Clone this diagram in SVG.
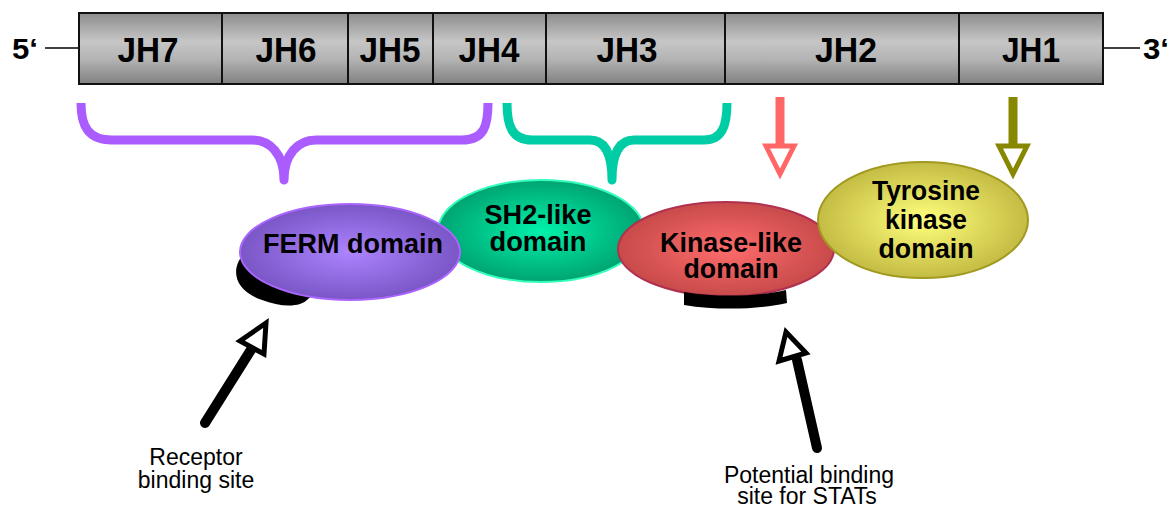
<svg xmlns="http://www.w3.org/2000/svg" width="1170" height="508" viewBox="0 0 1170 508">
<defs>
<linearGradient id="bar" x1="0" y1="0" x2="0" y2="1">
<stop offset="0" stop-color="#8c8c8c"/>
<stop offset="0.4" stop-color="#c6c6c6"/>
<stop offset="0.65" stop-color="#b4b4b4"/>
<stop offset="1" stop-color="#808080"/>
</linearGradient>
<radialGradient id="gFerm"><stop offset="0" stop-color="#ac84ff"/><stop offset="1" stop-color="#7a56c6"/></radialGradient>
<radialGradient id="gSh2"><stop offset="0" stop-color="#00f2aa"/><stop offset="1" stop-color="#00a472"/></radialGradient>
<radialGradient id="gKin"><stop offset="0" stop-color="#ff6c6c"/><stop offset="1" stop-color="#c84a4a"/></radialGradient>
<radialGradient id="gTyr"><stop offset="0" stop-color="#ffff7c"/><stop offset="1" stop-color="#c4bc44"/></radialGradient>
</defs>
<style>
.seg{fill:url(#bar);stroke:#111;stroke-width:2}
.jh{font-family:"Liberation Sans",Arial,sans-serif;font-weight:bold;font-size:35px;text-anchor:middle;fill:#000}
.end{font-family:"Liberation Sans",Arial,sans-serif;font-weight:bold;font-size:30px;fill:#000}
.lab{font-family:"Liberation Sans",Arial,sans-serif;font-weight:bold;font-size:28px;text-anchor:middle;fill:#000}
.note{font-family:"Liberation Sans",Arial,sans-serif;font-size:23px;text-anchor:middle;fill:#000}
.brace{fill:none;stroke-width:9;stroke-linecap:butt;stroke-linejoin:round}
.open{fill:#fff;stroke-width:5;stroke-linejoin:miter}
</style>

<g id="gene">
<line x1="45" y1="48" x2="79" y2="48" stroke="#000" stroke-width="1.5"/>
<line x1="1103" y1="48" x2="1140" y2="48" stroke="#000" stroke-width="1.5"/>
<text class="end" x="12" y="59" textLength="26" lengthAdjust="spacingAndGlyphs">5‘</text>
<text class="end" x="1143" y="59" textLength="26" lengthAdjust="spacingAndGlyphs">3‘</text>
<rect class="seg" x="79" y="13" width="143" height="71"/>
<rect class="seg" x="222" y="13" width="126" height="71"/>
<rect class="seg" x="348" y="13" width="85" height="71"/>
<rect class="seg" x="433" y="13" width="113" height="71"/>
<rect class="seg" x="546" y="13" width="179" height="71"/>
<rect class="seg" x="725" y="13" width="234" height="71"/>
<rect class="seg" x="959" y="13" width="144" height="71"/>
<text class="jh" x="148" y="62" textLength="61" lengthAdjust="spacingAndGlyphs">JH7</text>
<text class="jh" x="286" y="62" textLength="61" lengthAdjust="spacingAndGlyphs">JH6</text>
<text class="jh" x="390" y="62" textLength="61" lengthAdjust="spacingAndGlyphs">JH5</text>
<text class="jh" x="489" y="62" textLength="61" lengthAdjust="spacingAndGlyphs">JH4</text>
<text class="jh" x="627" y="62" textLength="61" lengthAdjust="spacingAndGlyphs">JH3</text>
<text class="jh" x="846" y="62" textLength="62" lengthAdjust="spacingAndGlyphs">JH2</text>
<text class="jh" x="1031" y="62" textLength="58" lengthAdjust="spacingAndGlyphs">JH1</text>
</g>

<g id="connectors">
<path class="brace" stroke="#aa5cff" d="M 81 103 C 81 126 88 140 112 140 L 252 140 C 270 140 284 154 284 180 C 284 154 298 140 316 140 L 462 140 C 484 140 488 126 488 103"/>
<path class="brace" stroke="#00cca6" d="M 507 103 C 507 126 512 140 532 140 L 590 140 C 604 140 612 152 612 180 C 612 152 620 140 634 140 L 704 140 C 722 140 727 126 727 103"/>
<line x1="780" y1="97" x2="780" y2="146" stroke="#ff6666" stroke-width="9"/>
<path class="open" stroke="#ff6666" d="M 766 146 L 794 146 L 780 174 Z"/>
<line x1="1013" y1="97" x2="1013" y2="146" stroke="#888800" stroke-width="9"/>
<path class="open" stroke="#888800" d="M 999 146 L 1027 146 L 1013 174 Z"/>
<line x1="205" y1="423" x2="254" y2="345" stroke="#000" stroke-width="10" stroke-linecap="round"/>
<path class="open" stroke="#000" d="M 266 323 L 240 341 L 264 354 Z"/>
<line x1="817" y1="448" x2="797" y2="360" stroke="#000" stroke-width="10" stroke-linecap="round"/>
<path class="open" stroke="#000" d="M 786 332 L 779 361 L 806 353 Z"/>
</g>

<g id="sh2">
<ellipse cx="541" cy="231" rx="103" ry="51" fill="url(#gSh2)" stroke="#33ffbb" stroke-width="2"/>
<text class="lab" x="538" y="224" textLength="107" lengthAdjust="spacingAndGlyphs">SH2-like</text>
<text class="lab" x="538" y="251" textLength="97" lengthAdjust="spacingAndGlyphs">domain</text>
</g>

<g id="ferm">
<path d="M 246 252 C 230 266 232 290 262 300 C 280 307 300 308 308 299 L 320 290 L 262 250 Z" fill="#000"/>
<ellipse cx="350" cy="252" rx="110" ry="48" fill="url(#gFerm)" stroke="#aa66ff" stroke-width="2"/>
<text class="lab" x="353" y="253" textLength="180" lengthAdjust="spacingAndGlyphs">FERM domain</text>
</g>

<g id="kinase">
<ellipse cx="726" cy="249" rx="108" ry="47" fill="url(#gKin)" stroke="#b03050" stroke-width="2"/>
<path d="M 684 292 C 720 298 760 296 786 290 L 787 303 C 760 309 720 311 684 305 Z" fill="#000"/>
<text class="lab" x="731" y="252" textLength="142" lengthAdjust="spacingAndGlyphs">Kinase-like</text>
<text class="lab" x="731" y="278" textLength="95" lengthAdjust="spacingAndGlyphs">domain</text>
</g>

<g id="tyrosine">
<ellipse cx="923" cy="220" rx="105" ry="58" fill="url(#gTyr)" stroke="#a09a20" stroke-width="2"/>
<text class="lab" x="926" y="200" textLength="108" lengthAdjust="spacingAndGlyphs">Tyrosine</text>
<text class="lab" x="926" y="229" textLength="82" lengthAdjust="spacingAndGlyphs">kinase</text>
<text class="lab" x="926" y="258" textLength="95" lengthAdjust="spacingAndGlyphs">domain</text>
</g>

<g id="notes">
<text class="note" x="196" y="465">Receptor</text>
<text class="note" x="196" y="488">binding site</text>
<text class="note" x="809" y="483">Potential binding</text>
<text class="note" x="807" y="504">site for STATs</text>
</g>
</svg>
